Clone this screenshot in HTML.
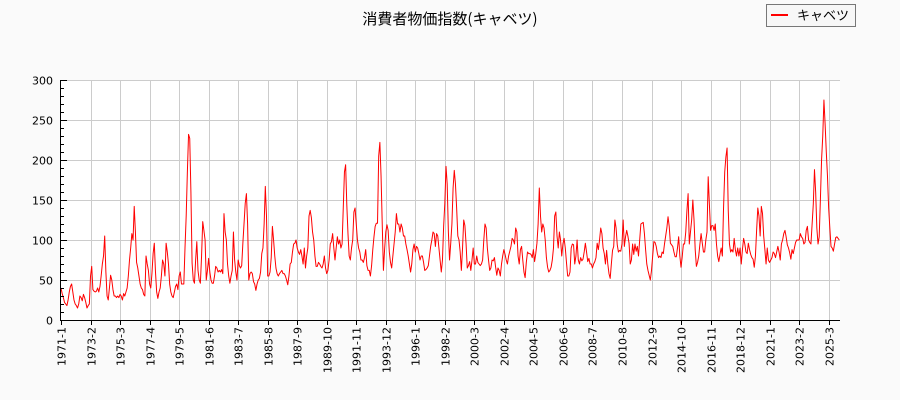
<!DOCTYPE html>
<html><head><meta charset="utf-8">
<style>
html,body{margin:0;padding:0;background:#fafafa;}
svg{display:block;font-family:"DejaVu Sans","Liberation Sans","Noto Sans CJK JP",sans-serif;}
</style></head>
<body>
<svg id="chart" width="900" height="400" xmlns="http://www.w3.org/2000/svg">
<rect x="0" y="0" width="900" height="400" fill="#fafafa"/>
<text x="450" y="24" text-anchor="middle" font-size="15" fill="#000" font-family="'Noto Sans CJK JP',sans-serif">消費者物価指数(キャベツ)</text>
<g>
<rect x="766.5" y="4.5" width="89" height="22" fill="#f7f7f7" stroke="#777"/>
<line x1="771" y1="15" x2="788" y2="15" stroke="#f00" stroke-width="2"/>
<text x="797" y="20" font-size="13" fill="#000" font-family="'Noto Sans CJK JP',sans-serif">キャベツ</text>
</g>
<rect x="61" y="80" width="779" height="240" fill="#fff"/>
<g id="grid"></g>
<g id="series"></g>
<g id="axes"></g>
</svg>
<script>
const startYear = 1971;
const yTicks = [0,50,100,150,200,250,300];
const xTickLabels = ["1971-1","1973-2","1975-3","1977-4","1979-5","1981-6","1983-7","1985-8","1987-9","1989-10","1991-11","1993-12","1996-1","1998-2","2000-3","2002-4","2004-5","2006-6","2008-7","2010-8","2012-9","2014-10","2016-11","2018-12","2021-1","2023-2","2025-3"];
const values1970s = [40,33,28,22,20,18,25,35,42,45,35,25,20,18,15,20,30,28,24,32,28,22,15,18,20,55,67,38,36,35,36,40,35,42,55,70,80,105,60,30,25,40,56,50,38,30,30,28,30,28,32,30,25,33,30,35,40,55,75,90,108,100,142,110,72,65,55,45,40,38,32,30,80,70,62,45,40,58,83,96,60,35,27,35,40,55,75,70,55,96,85,70,45,35,30,28,35,42,45,38,55,60,45,45,45,90,130,185];
const values1980s = [232,227,160,71,50,46,75,98,62,50,46,79,123,112,100,50,62,77,60,50,46,46,55,67,65,60,62,60,63,58,133,110,100,70,55,46,55,62,110,75,60,50,75,68,65,68,96,121,146,158,120,50,58,60,58,48,45,37,45,50,52,60,83,90,120,167,130,55,55,60,78,117,100,80,65,58,55,58,60,62,58,58,55,50,44,55,70,72,85,95,96,100,90,85,82,88,80,70,90,65,80,90,130,137,128,110,100,80,67,67,72,70,67,65,70,80,65,58,62,75];
const values1990s = [95,98,108,90,75,90,104,95,100,90,95,140,185,194,144,108,80,75,90,100,135,140,120,100,90,85,75,75,72,78,88,68,62,62,55,68,88,104,117,121,121,205,222,180,120,62,88,110,119,112,85,72,65,80,95,110,133,120,120,110,120,115,105,105,95,88,80,70,60,70,88,95,85,92,90,83,75,80,80,72,62,63,65,68,80,92,100,110,108,92,108,105,90,75,60,75,117,146,192,170,110,75,96,120,165,187,170,140,105,100,85,62,90,125,118,95,65,68,73,62];
const values2000s = [75,90,70,70,80,72,70,68,70,75,100,120,115,90,75,62,65,75,74,78,66,56,65,62,55,70,80,88,82,75,70,80,86,92,102,100,95,115,110,80,70,88,92,75,60,53,72,85,83,83,82,78,88,73,83,96,120,165,130,110,120,115,100,78,66,60,62,66,75,90,130,135,105,90,110,100,80,95,102,90,72,55,55,60,90,95,94,70,80,100,75,70,78,74,76,85,96,85,73,77,70,70,65,70,73,78,96,88,100,115,108,90,83,70,87,70,58,52,70,87];
const values2010s = [92,125,115,94,85,87,86,95,125,92,104,112,105,96,70,75,95,82,95,86,92,80,100,120,121,122,108,88,70,62,56,50,62,80,98,97,92,83,78,80,78,85,83,95,105,115,129,117,96,94,92,85,79,79,90,104,80,66,79,95,95,110,137,158,95,110,125,150,125,88,67,72,80,95,108,96,85,85,100,110,179,145,112,118,118,112,120,95,80,73,82,90,80,140,185,204,215,137,95,85,88,85,102,88,80,90,80,90,70,88,102,95,85,83,96,88,82,78,76,66];
const values2020s = [80,112,140,130,105,142,133,105,88,70,90,75,72,75,78,85,83,78,85,92,85,75,95,100,108,112,104,94,90,84,76,88,83,90,97,100,100,100,108,104,102,95,97,112,117,100,97,95,120,145,188,160,115,95,104,150,200,230,275,245,210,180,140,115,92,90,86,95,103,104,102,100];
const values = values1970s.concat(values1980s, values1990s, values2000s, values2010s, values2020s);

const NS = "http://www.w3.org/2000/svg";
const L = 61, R = 840, T = 80, B = 320;
const pxPerMonth = 1.181;
function xScale(i){ return L + i * pxPerMonth; }
function yScale(v){ return B - (v / 300) * (B - T); }
function labelIndex(s){ const p = s.split("-"); return (parseInt(p[0]) - startYear) * 12 + parseInt(p[1]) - 1; }
function mk(tag, attrs, parent){ const e = document.createElementNS(NS, tag); for (const k in attrs) e.setAttribute(k, attrs[k]); parent.appendChild(e); return e; }

const grid = document.getElementById("grid");
const axes = document.getElementById("axes");
const series = document.getElementById("series");

yTicks.forEach(v => {
  const y = Math.round(yScale(v)) + 0.5;
  if (v > 0) {
    const g = mk("line", {x1: L, x2: R, y1: y, y2: y, stroke: "#ccc", "stroke-width": 1}, grid);
    
    
  }
  const t = mk("line", {x1: L, x2: L + 6, y1: y, y2: y, stroke: "#000", "stroke-width": 1}, axes);
  
  
  const lb = mk("text", {x: 53, y: y + 4, "text-anchor": "end", "font-size": 11, fill: "#000"}, axes);
  lb.textContent = v;
  
  
});
for (let v = 10; v < 300; v += 10) {
  if (v % 50 === 0) continue;
  const y = Math.round(yScale(v)) + 0.5;
  const t = mk("line", {x1: L, x2: L + 3, y1: y, y2: y, stroke: "#000", "stroke-width": 1}, axes);
  
  
}
xTickLabels.forEach(s => {
  const x = Math.round(xScale(labelIndex(s))) + 0.5;
  if (labelIndex(s) > 0) {
    const g = mk("line", {x1: x, x2: x, y1: T, y2: B, stroke: "#ccc", "stroke-width": 1}, grid);
    
    
  }
  const t = mk("line", {x1: x, x2: x, y1: B, y2: B + 5, stroke: "#000", "stroke-width": 1}, axes);
  
  
  const lb = mk("text", {x: 0, y: 0, "text-anchor": "end", "font-size": 11, fill: "#000", transform: "translate(" + (x + 4) + "," + (B + 7) + ") rotate(-90)"}, axes);
  lb.textContent = s;
  
  
});
const yAxis = mk("line", {x1: L - 0.5, x2: L - 0.5, y1: T, y2: B + 1, stroke: "#000", "stroke-width": 1}, axes);


const xAxis = mk("line", {x1: L - 1, x2: R, y1: B + 0.5, y2: B + 0.5, stroke: "#000", "stroke-width": 1}, axes);



const pts = values.map((v, i) => xScale(i).toFixed(2) + "," + yScale(v).toFixed(2)).join(" ");
const line = mk("polyline", {points: pts, fill: "none", stroke: "#f00", "stroke-width": 1, "stroke-linejoin": "round"}, series);


</script>
</body></html>
